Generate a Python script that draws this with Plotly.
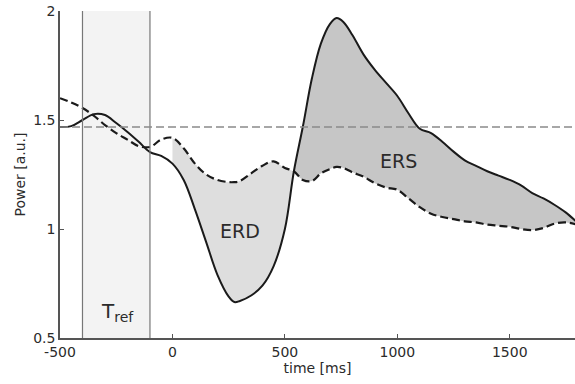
import plotly.graph_objects as go

# time axis (ms) shared by both curves
time_ms = [-500, -450, -400, -350, -300, -250, -200, -150, -100, -50, 0, 50, 100, 150, 200,
           250, 275, 300, 350, 400, 450, 500, 540, 580, 620, 660, 700, 730, 760, 800, 850,
           900, 950, 1000, 1050, 1100, 1150, 1200, 1250, 1300, 1350, 1400, 1450, 1500,
           1550, 1600, 1650, 1700, 1750, 1800]

# solid curve: band power
power = [1.468, 1.472, 1.50, 1.527, 1.523, 1.486, 1.445, 1.40, 1.353, 1.335, 1.30, 1.225, 1.09,
         0.94, 0.79, 0.69, 0.665, 0.67, 0.695, 0.74, 0.83, 1.00, 1.265, 1.47, 1.69, 1.85, 1.94,
         1.968, 1.95, 1.89, 1.80, 1.73, 1.67, 1.61, 1.53, 1.46, 1.44, 1.40, 1.355, 1.315,
         1.29, 1.265, 1.245, 1.225, 1.20, 1.165, 1.14, 1.11, 1.075, 1.03]

# dashed curve: comparison condition
control = [1.60, 1.58, 1.555, 1.52, 1.477, 1.44, 1.41, 1.38, 1.376, 1.41, 1.418, 1.37, 1.30,
           1.25, 1.225, 1.215, 1.215, 1.22, 1.255, 1.29, 1.31, 1.28, 1.265, 1.225, 1.22, 1.255,
           1.275, 1.285, 1.28, 1.26, 1.24, 1.21, 1.19, 1.18, 1.14, 1.10, 1.07, 1.055, 1.045,
           1.035, 1.03, 1.02, 1.015, 1.01, 1.0, 0.995, 1.005, 1.025, 1.03, 1.02]

reference_level = 1.468
tref_start, tref_end = -400, -100
event_onset = 0
crossing = 540

x_ticks = [-500, 0, 500, 1000, 1500]
x_tick_labels = ["-500", "0", "500", "1000", "1500"]
y_ticks = [0.5, 1, 1.5, 2]
y_tick_labels = ["0.5", "1", "1.5", "2"]

FONT = "DejaVu Sans, Liberation Sans, Arial"
font_col = "#2b2b2b"

fig = go.Figure()

def seg(lo, hi):
    idx = [i for i, t in enumerate(time_ms) if lo <= t <= hi]
    return ([time_ms[i] for i in idx], [power[i] for i in idx], [control[i] for i in idx])

# ERD fill
tx, py, cy = seg(event_onset, crossing)
fig.add_trace(go.Scatter(x=tx, y=cy, mode="lines", line=dict(width=0, shape="spline"),
                         showlegend=False, hoverinfo="skip"))
fig.add_trace(go.Scatter(x=tx, y=py, mode="lines", line=dict(width=0, shape="spline"),
                         fill="tonexty", fillcolor="#dedede", showlegend=False, hoverinfo="skip"))
# ERS fill
tx, py, cy = seg(crossing, 1800)
fig.add_trace(go.Scatter(x=tx, y=cy, mode="lines", line=dict(width=0, shape="spline"),
                         showlegend=False, hoverinfo="skip"))
fig.add_trace(go.Scatter(x=tx, y=py, mode="lines", line=dict(width=0, shape="spline"),
                         fill="tonexty", fillcolor="#c6c6c6", showlegend=False, hoverinfo="skip"))

# curves
fig.add_trace(go.Scatter(x=time_ms, y=control, mode="lines",
                         line=dict(color="#1a1a1a", width=2.2, dash="8px,4px", shape="spline"),
                         showlegend=False))
fig.add_trace(go.Scatter(x=time_ms, y=power, mode="lines",
                         line=dict(color="#1a1a1a", width=2, shape="spline"),
                         showlegend=False))

# reference band and lines
fig.add_shape(type="rect", xref="x", yref="y", x0=tref_start, x1=tref_end, y0=0.5, y1=2,
              fillcolor="#f3f3f3", line=dict(width=0), layer="below")
for xv in (tref_start, tref_end):
    fig.add_shape(type="line", xref="x", yref="y", x0=xv, x1=xv, y0=0.5, y1=2,
                  line=dict(color="#777777", width=1.2), layer="above")
fig.add_shape(type="line", xref="paper", yref="y", x0=0, x1=1, y0=reference_level,
              y1=reference_level, line=dict(color="#8a8a8a", width=1.5, dash="8px,4px"),
              layer="above")

fig.add_annotation(x=-245, y=0.62, text="T<sub>ref</sub>", showarrow=False,
                   font=dict(family=FONT, size=20, color=font_col))
fig.add_annotation(x=300, y=0.99, text="ERD", showarrow=False,
                   font=dict(family=FONT, size=19, color=font_col))
fig.add_annotation(x=1003, y=1.31, text="ERS", showarrow=False,
                   font=dict(family=FONT, size=19, color=font_col))

fig.update_layout(
    width=575, height=384,
    margin=dict(l=60, r=0, t=11, b=46),
    paper_bgcolor="white", plot_bgcolor="white",
    font=dict(family=FONT, size=14, color=font_col),
    xaxis=dict(range=[-500, 1790], tickvals=x_ticks, ticktext=x_tick_labels,
               showgrid=False, zeroline=False, showline=True, linecolor="#555555",
               linewidth=1.5, ticks="inside", ticklen=4, tickcolor="#555555",
               ticklabeloverflow="allow", automargin=False,
               title=dict(text="time [ms]", standoff=0, font=dict(size=14))),
    yaxis=dict(range=[0.5, 2], tickvals=y_ticks, ticktext=y_tick_labels,
               showgrid=False, zeroline=False, showline=True, linecolor="#555555",
               linewidth=1.5, ticks="inside", ticklen=4, tickcolor="#555555",
               ticklabeloverflow="allow", automargin=False,
               title=dict(text="Power [a.u.]", standoff=4, font=dict(size=14))),
)

# remove the default page margin so the figure fills the window exactly
fig.write_html("out.html", config={"displayModeBar": False},
               post_script="document.body.style.margin='0';document.body.style.overflow='hidden';")
